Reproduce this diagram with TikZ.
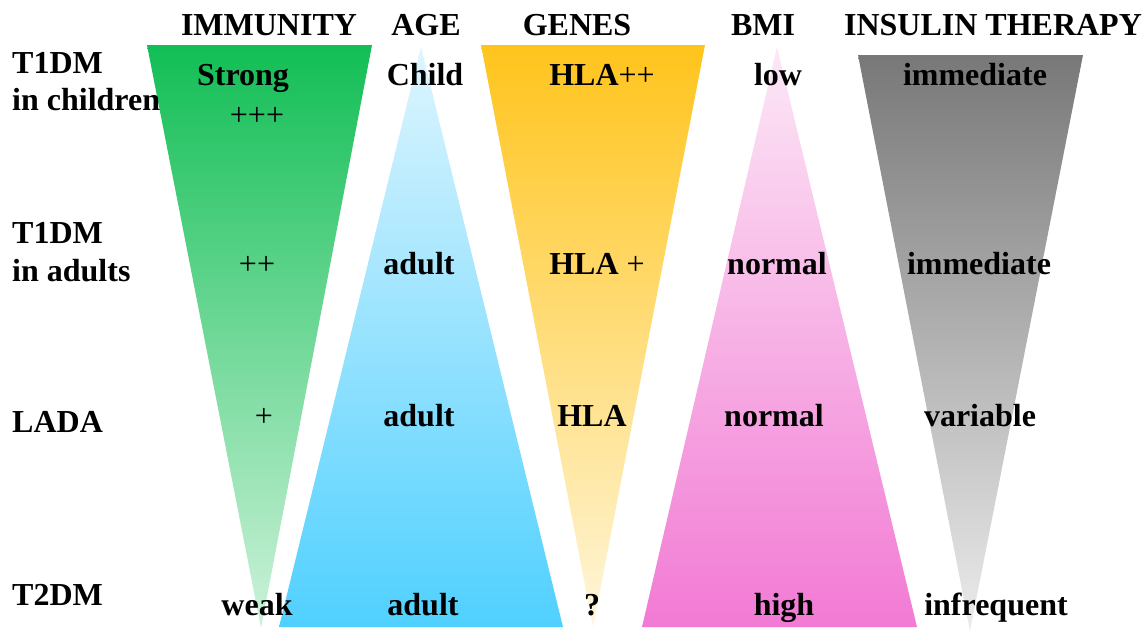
\documentclass[tikz,border=0pt]{standalone}
\usepackage{fontspec}
\setmainfont{Liberation Serif}
\definecolor{immtop}{RGB}{18,190,85}
\definecolor{immbot}{RGB}{205,242,218}
\definecolor{agetop}{RGB}{222,245,254}
\definecolor{agebot}{RGB}{80,208,255}
\definecolor{gentop}{RGB}{255,196,28}
\definecolor{genbot}{RGB}{255,246,218}
\definecolor{bmitop}{RGB}{252,232,246}
\definecolor{bmibot}{RGB}{242,122,212}
\definecolor{instop}{RGB}{120,120,120}
\definecolor{insbot}{RGB}{236,236,236}
\begin{document}
\begin{tikzpicture}[x=1pt, y=-1pt,
                    txt/.style={anchor=base, inner sep=0pt, font=\bfseries\fontsize{32}{37}\selectfont},
                    rowlabel/.style={txt, anchor=base west}]
    \useasboundingbox (0,0) rectangle (1148,632);
    % wedges
    \shade [top color=immtop, bottom color=immbot] (147,45) -- (372,45) -- (261,628) -- cycle;
    \shade [top color=agetop, bottom color=agebot] (421,47) -- (563,627) -- (279,627) -- cycle;
    \shade [top color=gentop, bottom color=genbot] (481,45) -- (705,45) -- (593,627) -- cycle;
    \shade [top color=bmitop, bottom color=bmibot] (777,47) -- (917,627) -- (642,627) -- cycle;
    \shade [top color=instop, bottom color=insbot] (858,55) -- (1083,55) -- (970,631) -- cycle;

    % column heads
    \node [txt] (himm) at (269,35) {IMMUNITY};
    \node [txt] (hage) at (426,35) {AGE};
    \node [txt] (hgen) at (577,35) {GENES};
    \node [txt] (hbmi) at (763,35) {BMI};
    \node [txt] (hins) at (993,35) {INSULIN THERAPY};

    % row labels
    \node [rowlabel] (lchild) at (12,73) {T1DM};
    \node [rowlabel] (lchild2) at (12,110) {in children};
    \node [rowlabel] (ladult) at (12,243) {T1DM};
    \node [rowlabel] (ladult2) at (12,281) {in adults};
    \node [rowlabel] (llada) at (12,432) {LADA};
    \node [rowlabel] (lt2dm) at (12,605) {T2DM};

    % T1DM in children
    \node [txt] (imm1) at (243,85) {Strong};
    \node [txt] (imm1b) at (257,125) {\mdseries +++};
    \node [txt] (age1) at (425,85) {Child};
    \node [txt] (gen1) at (602,85) {HLA\mdseries ++};
    \node [txt] (bmi1) at (778,85) {low};
    \node [txt] (ins1) at (975,85) {immediate};

    % T1DM in adults
    \node [txt] (imm2) at (257,274) {\mdseries ++};
    \node [txt] (age2) at (419,274) {adult};
    \node [txt] (gen2) at (597,274) {HLA \mdseries +};
    \node [txt] (bmi2) at (777,274) {normal};
    \node [txt] (ins2) at (979,274) {immediate};

    % LADA
    \node [txt] (imm3) at (264,426) {\mdseries +};
    \node [txt] (age3) at (419,426) {adult};
    \node [txt] (gen3) at (592,426) {HLA};
    \node [txt] (bmi3) at (774,426) {normal};
    \node [txt] (ins3) at (980,426) {variable};

    % T2DM
    \node [txt] (imm4) at (257,615) {weak};
    \node [txt] (age4) at (423,615) {adult};
    \node [txt] (gen4) at (592,615) {?};
    \node [txt] (bmi4) at (784,615) {high};
    \node [txt] (ins4) at (996,615) {infrequent};
\end{tikzpicture}
\end{document}
